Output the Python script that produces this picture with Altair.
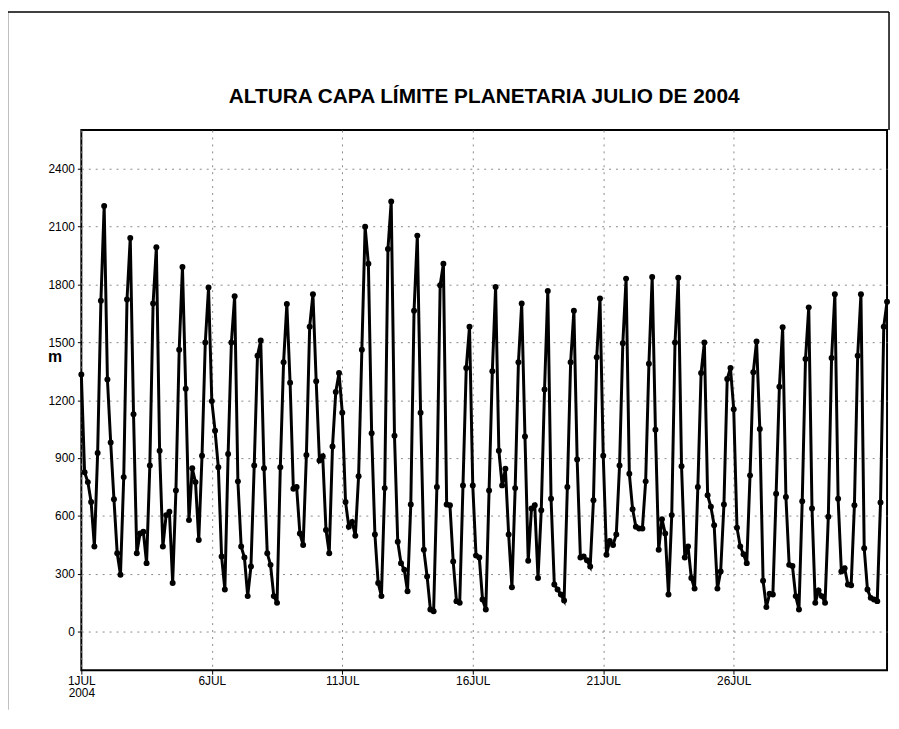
import altair as alt
import pandas as pd

# Planetary boundary layer height (m), 3-hourly, July 2004 (00,03,...,21 h each day)
jul01_07 = [1333, 826, 775, 672, 441, 926, 1715, 2207,
            1307, 981, 686, 406, 295, 801, 1722, 2041,
            1127, 406, 509, 518, 355, 861, 1701, 1993,
            938, 441, 604, 621, 252, 732, 1461, 1890,
            1259, 578, 847, 775, 475, 912, 1499, 1784,
            1195, 1041, 852, 389, 218, 921, 1499, 1739,
            779, 441, 384, 184, 338, 861, 1430, 1509]
jul08_14 = [847, 406, 346, 184, 149, 852, 1396, 1698,
            1290, 741, 750, 509, 449, 916, 1581, 1749,
            1298, 887, 909, 527, 406, 960, 1242, 1341,
            1135, 672, 544, 569, 497, 806, 1461, 2099,
            1907, 1029, 504, 252, 184, 744, 1984, 2230,
            1015, 466, 355, 321, 209, 659, 1664, 2053,
            1135, 424, 286, 115, 106, 750, 1796, 1907]
jul15_21 = [659, 655, 364, 158, 149, 758, 1367, 1581,
            758, 394, 384, 166, 115, 732, 1350, 1787,
            938, 758, 844, 504, 230, 744, 1396, 1701,
            1012, 367, 638, 655, 278, 629, 1255, 1766,
            689, 244, 218, 192, 161, 750, 1396, 1664,
            892, 384, 389, 370, 338, 681, 1423, 1727,
            912, 398, 470, 449, 504, 861, 1495, 1830]
jul22_28 = [818, 635, 544, 535, 535, 779, 1389, 1838,
            1046, 424, 583, 509, 192, 604, 1499, 1835,
            857, 384, 441, 278, 223, 750, 1341, 1499,
            707, 647, 552, 223, 312, 659, 1310, 1367,
            1153, 539, 441, 401, 355, 810, 1345, 1504,
            1050, 264, 127, 196, 192, 715, 1269, 1578,
            698, 346, 340, 184, 115, 676, 1413, 1681]
jul29_31 = [638, 149, 213, 184, 149, 595, 1418, 1749,
            689, 312, 329, 244, 240, 655, 1430, 1749,
            432, 218, 175, 166, 158, 669, 1581, 1710]

x_tick_days = [0, 5, 10, 15, 20, 25]
y_ticks = [0, 300, 600, 900, 1200, 1500, 1800, 2100, 2400]
title_text = "ALTURA CAPA LÍMITE PLANETARIA JULIO DE 2004"

values = jul01_07 + jul08_14 + jul15_21 + jul22_28 + jul29_31
df = pd.DataFrame({"t": [i / 8 for i in range(len(values))], "h": values})

W, H = 813, 545
FONT = "Liberation Sans"

x_enc = alt.X(
    "t:Q",
    scale=alt.Scale(domain=[0, 30.875], nice=False, zero=False),
    axis=alt.Axis(
        values=x_tick_days,
        labelExpr="datum.value == 0 ? ['1JUL', '2004'] : (datum.value + 1) + 'JUL'",
        title=None, grid=True, gridDash=[2, 5], gridColor="#8a8a8a",
        tickSize=4, tickColor="black", domain=False,
        labelFont=FONT, labelFontSize=12, labelColor="black",
        labelPadding=1, labelLineHeight=13, labelFlush=False,
    ),
)
y_enc = alt.Y(
    "h:Q",
    scale=alt.Scale(domain=[-200, 2600], nice=False, zero=False),
    axis=alt.Axis(
        values=y_ticks, format="d", title="m", titleAngle=0, titleX=-27, titleY=229,
        titleAlign="center", titleBaseline="middle", titleFont=FONT,
        titleFontSize=16, titleFontWeight="bold", titleColor="black",
        grid=True, gridDash=[2, 5], gridColor="#8a8a8a",
        tickSize=4, tickColor="black", domain=False,
        labelFont=FONT, labelFontSize=12, labelColor="black", labelPadding=3,
    ),
)

line = alt.Chart(df).mark_line(color="black", strokeWidth=3).encode(x=x_enc, y=y_enc)
pts = alt.Chart(df).mark_circle(color="black", opacity=1, size=36).encode(x="t:Q", y="h:Q")

one = pd.DataFrame({"a": [0]})
title = alt.Chart(one).mark_text(
    text=title_text, font=FONT, fontSize=21, fontWeight="bold", color="black",
    align="center", baseline="alphabetic",
).encode(x=alt.value(W / 2), y=alt.value(-27))
top = alt.Chart(one).mark_rule(color="black", strokeWidth=1.5).encode(
    x=alt.value(-74.5), x2=alt.value(W + 2), y=alt.value(-119.2))
left = alt.Chart(one).mark_rule(color="black", strokeWidth=1.5).encode(
    x=alt.value(-74.5), y=alt.value(-119.2), y2=alt.value(H + 40))
right = alt.Chart(one).mark_rule(color="black", strokeWidth=1.5).encode(
    x=alt.value(W + 2), y=alt.value(-119.2), y2=alt.value(0))

chart = alt.layer(line, pts, title, top, left, right).properties(
    width=W, height=H,
    autosize=alt.AutoSizeParams(type="none"),
    padding={"left": 74, "top": 120, "right": 4, "bottom": 40},
).configure_view(stroke="black", strokeWidth=2)

chart.save("out.html", embed_options={"renderer": "svg", "actions": False})
